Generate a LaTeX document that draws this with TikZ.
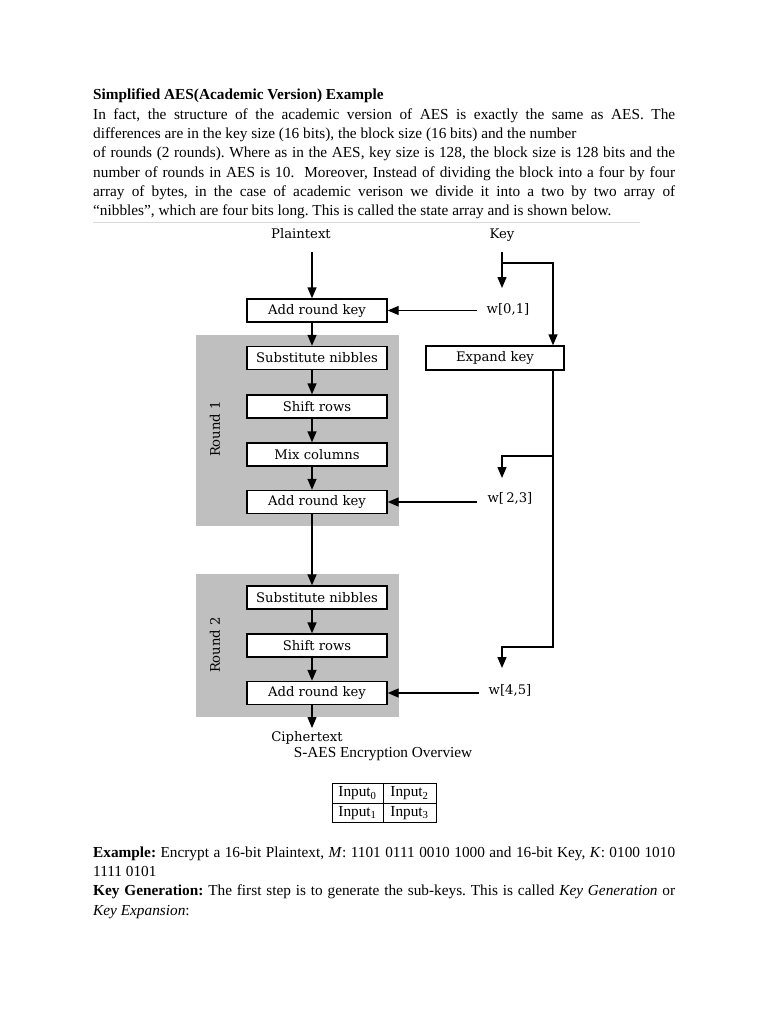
\documentclass[tikz,border=0pt]{standalone}
\usepackage{fontspec}
\setmainfont{Liberation Serif}
\newfontfamily\dia{DejaVu Serif}
\usetikzlibrary{arrows.meta,calc}
\frenchspacing
\begin{document}
\begin{tikzpicture}[x=1pt,y=-1pt,
  txt/.style={anchor=base west,inner sep=0pt,font=\frenchspacing\fontsize{15.3}{19.3}\selectfont},
  box/.style={draw,fill=white,line width=1.4pt,minimum width=140pt,minimum height=23pt,inner sep=0pt,font=\dia\fontsize{13.2}{14}\selectfont},
  lbl/.style={inner sep=0pt,font=\dia\fontsize{13.2}{14}\selectfont},
  wl/.style={inner xsep=10pt,inner ysep=0pt,font=\dia\fontsize{13.2}{14}\selectfont},
  arr/.style={line width=1.4pt,-{Triangle[width=9pt,length=11pt]}},
  grp/.style={fill=black!25,draw=none,inner sep=0pt},
  cell/.style={draw,line width=0.9pt,inner sep=0pt,minimum height=19.5pt,font=\fontsize{15.3}{18}\selectfont}]
\useasboundingbox (0,0) rectangle (768,1024);
\fill[white] (0,0) rectangle (768,1024);

% ---- text above
\node[txt] (t1) at (93,100) {\textbf{Simplified AES(Academic Version) Example}};
\node[txt] (t2) at (93,119.5) {\makebox[582pt][s]{In fact, the structure of the academic version of AES is exactly the same as AES. The}};
\node[txt] (t3) at (93,139) {differences are in the key size (16 bits), the block size (16 bits) and the number};
\node[txt] (t4) at (93,158) {\makebox[582pt][s]{of rounds (2 rounds). Where as in the AES, key size is 128, the block size is 128 bits and the}};
\node[txt] (t5) at (93,177.5) {\makebox[582pt][s]{number of rounds in AES is 10.\ \ Moreover, Instead of dividing the block into a four by four}};
\node[txt] (t6) at (93,197) {\makebox[582pt][s]{array of bytes, in the case of academic verison we divide it into a two by two array of}};
\node[txt] (t7) at (93,216) {“nibbles”, which are four bits long. This is called the state array and is shown below.};
\coordinate (rl) at (93,223);
\coordinate (rr) at (640,223);
\draw[black!15,line width=1pt] (rl) -- (rr);

% ---- round groups
\node[grp,minimum width=203pt,minimum height=191pt] (r1) at (297.5,430.5) {};
\node[grp,minimum width=203pt,minimum height=143pt] (r2) at (297.5,645.5) {};
\node[lbl,rotate=90] (r1l) at (215,429) {Round 1};
\node[lbl,rotate=90] (r2l) at (215,645) {Round 2};

% ---- boxes
\node[box] (ark1) at (317,310.5) {Add round key};
\node[box] (sn1) at (317,358) {Substitute nibbles};
\node[box] (sr1) at (317,406.5) {Shift rows};
\node[box] (mc1) at (317,454.5) {Mix columns};
\node[box] (ark2) at (317,502) {Add round key};
\node[box] (sn2) at (317,597.5) {Substitute nibbles};
\node[box] (sr2) at (317,645.5) {Shift rows};
\node[box] (ark3) at (317,693) {Add round key};
\node[box,minimum width=138pt,minimum height=24pt] (exp) at (495,358) {Expand key};

% ---- labels
\node[lbl,anchor=base] (ptxt) at (301,239) {Plaintext};
\node[lbl,anchor=base] (key) at (502,239) {Key};
\node[wl] (w01) at (508,309) {w[0,1]};
\node[wl] (w23) at (510,498) {w[\,2,3]};
\node[wl] (w45) at (510,690) {w[4,5]};
\node[lbl,anchor=base] (ctxt) at (307,741) {Ciphertext};
\node[txt,anchor=base] (cap) at (383,757) {S-AES Encryption Overview};

% ---- left column arrows
\coordinate (pstart) at (312,252);
\coordinate (ctip) at (312,728);
\draw[arr] (pstart) -- (pstart |- ark1.north);
\draw[arr] (pstart |- ark1.south) -- (pstart |- sn1.north);
\draw[arr] (pstart |- sn1.south) -- (pstart |- sr1.north);
\draw[arr] (pstart |- sr1.south) -- (pstart |- mc1.north);
\draw[arr] (pstart |- mc1.south) -- (pstart |- ark2.north);
\draw[arr] (pstart |- ark2.south) -- (pstart |- sn2.north);
\draw[arr] (pstart |- sn2.south) -- (pstart |- sr2.north);
\draw[arr] (pstart |- sr2.south) -- (pstart |- ark3.north);
\draw[arr] (pstart |- ark3.south) -- (ctip);

% ---- key arrows
\draw[arr] (w01.west |- ark1.east) -- (ark1.east);
\draw[arr] (w23.west |- ark2.east) -- (ark2.east);
\draw[arr] (w45.west |- ark3.east) -- (ark3.east);

\coordinate (kstart) at (502,252);
\coordinate (k1) at (502,288);
\coordinate (kbr) at (553,263);
\coordinate (j2) at (553,456);
\coordinate (k2) at (502,478);
\coordinate (j3) at (553,647);
\coordinate (k3) at (502,668);
\draw[arr] (kstart) -- (k1);
\draw[arr] (kbr -| kstart) -- (kbr) -- (kbr |- exp.north);
\draw[arr] (kbr |- exp.south) -- (j3) -- (j3 -| k3) -- (k3);
\draw[arr] (j2) -- (j2 -| k2) -- (k2);

% ---- state table
\node[cell,minimum width=51pt] (c00) at (357.5,793.5) {Input\textsubscript{0}};
\node[cell,minimum width=53pt] (c01) at (409.5,793.5) {Input\textsubscript{2}};
\node[cell,minimum width=51pt] (c10) at (357.5,813) {Input\textsubscript{1}};
\node[cell,minimum width=53pt] (c11) at (409.5,813) {Input\textsubscript{3}};

% ---- text below
\node[txt] (b1) at (93,857) {\makebox[582pt][s]{\textbf{Example:} Encrypt a 16-bit Plaintext, \textit{M}: 1101 0111 0010 1000 and 16-bit Key, \textit{K}: 0100 1010}};
\node[txt] (b2) at (93,876) {1111 0101};
\node[txt] (b3) at (93,895.5) {\makebox[582pt][s]{\textbf{Key Generation:} The first step is to generate the sub-keys. This is called \textit{Key Generation} or}};
\node[txt] (b4) at (93,915) {\textit{Key Expansion}:};
\end{tikzpicture}
\end{document}
